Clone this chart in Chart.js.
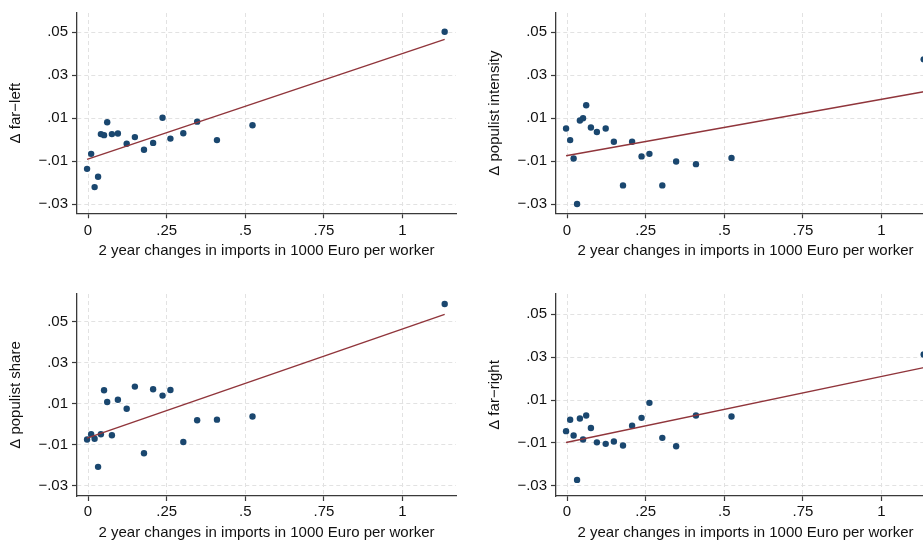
<!DOCTYPE html>
<html>
<head>
<meta charset="utf-8">
<script src="https://cdn.jsdelivr.net/npm/chart.js@4.4.0/dist/chart.umd.min.js"></script>
<style>
html, body { margin: 0; padding: 0; background: #fff; overflow: hidden; width: 923px; height: 541px; }
.panel { position: absolute; }
canvas { display: block; }
</style>
</head>
<body>
<div class="panel" style="left:0px;top:0px"><canvas id="farLeftChart" width="460" height="270"></canvas></div>
<div class="panel" style="left:479px;top:0px"><canvas id="intensityChart" width="460" height="270"></canvas></div>
<div class="panel" style="left:0px;top:270px"><canvas id="shareChart" width="460" height="290"></canvas></div>
<div class="panel" style="left:479px;top:270px"><canvas id="farRightChart" width="460" height="290"></canvas></div>

<script>
// x: 2 year changes in imports (1000 Euro per worker), one value per region
const importChange = [-0.003, 0.010, 0.021, 0.032, 0.041, 0.051, 0.061, 0.076, 0.095, 0.123,
                      0.149, 0.178, 0.207, 0.237, 0.262, 0.303, 0.347, 0.410, 0.523, 1.134];

const farLeft = [-0.0136, -0.0066, -0.0221, -0.0173, 0.0026, 0.0021, 0.0081, 0.0026, 0.0029, -0.0019,
                 0.0012, -0.0047, -0.0015, 0.0102, 0.0005, 0.0030, 0.0084, -0.0002, 0.0067, 0.0503];
const populistIntensity = [0.0052, -0.0002, -0.0088, -0.0300, 0.0089, 0.0100, 0.0160, 0.0057, 0.0036, 0.0052,
                           -0.0010, -0.0213, -0.0010, -0.0078, -0.0066, -0.0213, -0.0102, -0.0114, -0.0085, 0.0374];
const populistShare = [-0.0074, -0.0048, -0.0070, -0.0207, -0.0048, 0.0166, 0.0109, -0.0053, 0.0120, 0.0076,
                       0.0184, -0.0141, 0.0171, 0.0140, 0.0167, -0.0086, 0.0020, 0.0023, 0.0038, 0.0586];
const farRight = [-0.0045, 0.0008, -0.0065, -0.0272, 0.0014, -0.0084, 0.0028, -0.0030, -0.0097, -0.0104,
                  -0.0093, -0.0112, -0.0020, 0.0017, 0.0087, -0.0076, -0.0115, 0.0028, 0.0023, 0.0312];

// fitted lines, read at the ends of the data range
const fitX = [-0.003, 1.134];
const fitFarLeft = [-0.0092, 0.0467];
const fitIntensity = [-0.0075, 0.0223];
const fitShare = [-0.0067, 0.0536];
const fitFarRight = [-0.0098, 0.0251];

const xTickValues = [0, 0.25, 0.5, 0.75, 1];
const xTickLabels = ['0', '.25', '.5', '.75', '1'];
const yTickValues = [-0.03, -0.01, 0.01, 0.03, 0.05];
const yTickLabels = ['\u2212.03', '\u2212.01', '.01', '.03', '.05'];

const xTitle = '2 year changes in imports in 1000 Euro per worker';

const DOT = '#1a476f';
const FIT = '#90353b';
const AXIS = '#3a3a3a';
const GRID = '#e2e2e2';
const FONT = "'Liberation Sans', Arial, sans-serif";

function axisStyle() {
    return {
        grid: {
            color: GRID,
            lineWidth: 1,
            tickColor: AXIS,
            tickLength: 5,
            tickWidth: 1.2
        },
        // in v4 border.dash is the dash of the grid lines; the axis line stays solid
        border: { color: AXIS, width: 1.3, dash: [4, 3] }
    };
}

function makePanel(id, yLabel, values, fit, o) {
    const ctx = document.getElementById(id).getContext('2d');

    const points = importChange.map((x, i) => ({ x: x, y: values[i] }));
    const line = fitX.map((x, i) => ({ x: x, y: fit[i] }));

    return new Chart(ctx, {
        type: 'scatter',
        data: {
            datasets: [
                {
                    type: 'line',
                    data: line,
                    borderColor: FIT,
                    borderWidth: 1.4,
                    pointRadius: 0,
                    fill: false,
                    tension: 0
                },
                {
                    data: points,
                    pointRadius: 3.2,
                    pointBackgroundColor: DOT,
                    pointBorderColor: DOT,
                    pointBorderWidth: 0
                }
            ]
        },
        options: {
            responsive: false,
            animation: false,
            events: [],
            layout: { padding: { top: o.padTop, right: 3.4, bottom: 0, left: 0 } },
            plugins: { legend: { display: false }, tooltip: { enabled: false } },
            scales: {
                x: Object.assign({
                    type: 'linear',
                    min: -0.035,
                    max: 1.17,
                    afterBuildTicks: s => { s.ticks = xTickValues.map(v => ({ value: v })); },
                    afterFit: s => { s.height = o.xAxisHeight; },
                    ticks: {
                        callback: (v) => xTickLabels[xTickValues.indexOf(v)],
                        color: '#111',
                        font: { family: FONT, size: 15 },
                        padding: o.xTickPad,
                        maxRotation: 0
                    },
                    title: {
                        display: true,
                        text: xTitle,
                        color: '#111',
                        font: { family: FONT, size: 15 },
                        padding: { top: 0, bottom: o.xTitlePad }
                    }
                }, axisStyle()),
                y: Object.assign({
                    type: 'linear',
                    min: o.yMin,
                    max: o.yMax,
                    afterBuildTicks: s => { s.ticks = yTickValues.map(v => ({ value: v })); },
                    afterFit: s => { s.width = 77; },
                    ticks: {
                        callback: (v) => yTickLabels[yTickValues.indexOf(v)],
                        color: '#111',
                        font: { family: FONT, size: 15 },
                        padding: 4
                    },
                    title: {
                        display: true,
                        text: yLabel,
                        color: '#111',
                        font: { family: FONT, size: 15 },
                        padding: { top: 7, bottom: 0 }
                    }
                }, axisStyle())
            }
        }
    });
}

const topRow = { padTop: 12.7, xAxisHeight: 270 - 213.3, xTickPad: 4, xTitlePad: 10.3 };
const bottomRow = { padTop: 24, xAxisHeight: 290 - 226, xTickPad: 2, xTitlePad: 17.7 };

makePanel('farLeftChart', '\u0394 far\u2212left', farLeft, fitFarLeft,
    Object.assign({ yMin: -0.0343, yMax: 0.059 }, topRow));
makePanel('intensityChart', '\u0394 populist intensity', populistIntensity, fitIntensity,
    Object.assign({ yMin: -0.0343, yMax: 0.059 }, topRow));
makePanel('shareChart', '\u0394 populist share', populistShare, fitShare,
    Object.assign({ yMin: -0.0349, yMax: 0.0635 }, bottomRow));
makePanel('farRightChart', '\u0394 far\u2212right', farRight, fitFarRight,
    Object.assign({ yMin: -0.0347, yMax: 0.0594 }, bottomRow));
</script>
</body>
</html>
